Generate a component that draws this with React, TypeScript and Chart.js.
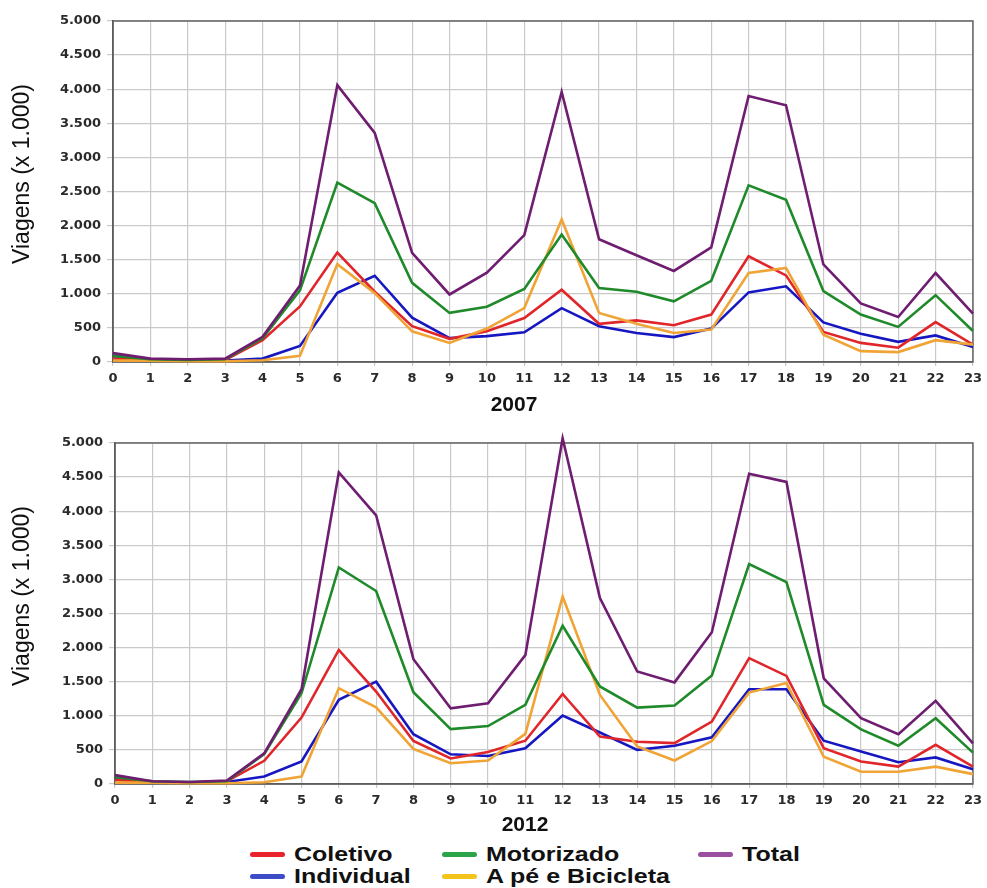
import React, { useEffect, useRef } from 'react';
import { Chart, registerables } from 'chart.js';

Chart.register(...registerables);

const HOURS = ['0', '1', '2', '3', '4', '5', '6', '7', '8', '9', '10', '11', '12', '13', '14', '15', '16', '17', '18', '19', '20', '21', '22', '23'];
const Y_TITLE = 'Viagens (x 1.000)';
const Y_MIN = 0;
const Y_MAX = 5000;
const Y_STEP = 500;
const YEARS_LABELS = ['2007', '2012'];

const SERIES = ['Coletivo', 'Individual', 'Motorizado', 'A pé e Bicicleta', 'Total'];
const LINE_COLORS = ['#e0262a', '#1717c2', '#1f8a2a', '#f0a436', '#6e1d70'];
const LEGEND_COLORS = ['#e8232c', '#3d4cc7', '#2ca548', '#f3c41b', '#9b4fa0'];

// 2007
const COLETIVO_2007 = [50, 30, 20, 30, 320, 815, 1605, 1030, 525, 340, 450, 645, 1060, 560, 610, 540, 695, 1550, 1270, 440, 280, 210, 585, 255];
const INDIVIDUAL_2007 = [90, 40, 30, 20, 50, 235, 1015, 1265, 650, 350, 380, 435, 790, 525, 425, 365, 490, 1020, 1110, 580, 415, 295, 390, 220];
const MOTORIZADO_2007 = [90, 40, 30, 40, 350, 1050, 2630, 2330, 1160, 720, 810, 1070, 1870, 1085, 1030, 890, 1190, 2590, 2380, 1040, 695, 515, 980, 455];
const APE_2007 = [20, 20, 10, 10, 25, 90, 1435, 1010, 450, 280, 490, 790, 2090, 720, 560, 425, 475, 1305, 1380, 400, 160, 145, 320, 255];
const TOTAL_2007 = [130, 50, 40, 50, 370, 1120, 4060, 3360, 1600, 990, 1310, 1860, 3960, 1800, 1565, 1335, 1680, 3900, 3765, 1430, 860, 660, 1305, 710];

// 2012
const COLETIVO_2012 = [60, 30, 20, 40, 340, 975, 1965, 1355, 630, 375, 470, 635, 1320, 695, 620, 600, 915, 1845, 1585, 525, 330, 255, 575, 255];
const INDIVIDUAL_2012 = [90, 30, 20, 30, 110, 330, 1235, 1500, 730, 435, 410, 525, 1005, 755, 500, 560, 685, 1390, 1390, 635, 475, 320, 390, 215];
const MOTORIZADO_2012 = [100, 40, 30, 40, 440, 1330, 3175, 2830, 1345, 805, 850, 1160, 2320, 1430, 1120, 1150, 1590, 3225, 2960, 1160, 800, 560, 965, 460];
const APE_2012 = [20, 20, 10, 10, 25, 110, 1405, 1125, 515, 305, 345, 735, 2750, 1305, 550, 345, 630, 1340, 1480, 400, 180, 180, 255, 145];
const TOTAL_2012 = [130, 40, 30, 50, 450, 1390, 4570, 3940, 1830, 1110, 1185, 1890, 5070, 2725, 1650, 1490, 2225, 4550, 4430, 1550, 965, 730, 1220, 595];

const DATA_2007 = [COLETIVO_2007, INDIVIDUAL_2007, MOTORIZADO_2007, APE_2007, TOTAL_2007];
const DATA_2012 = [COLETIVO_2012, INDIVIDUAL_2012, MOTORIZADO_2012, APE_2012, TOTAL_2012];

const TICK_FONT = { family: '"DejaVu Sans", Verdana, sans-serif', size: 13, weight: 'bold' as const };
const TEXT_FONT = '"Liberation Sans", Arial, sans-serif';

const fmt = (v: number) => String(v).replace(/\B(?=(\d{3})+(?!\d))/g, '.');

type Props = {
  year: string;
  data: number[][];
  top: number;
  padTop: number;
  padRight: number;
  axisLeft: number;
  axisBottom: number;
  titleX: number;
  titleY: number;
  yTitleY: number;
};

function LineChart({ year, data, top, padTop, padRight, axisLeft, axisBottom, titleX, titleY, yTitleY }: Props) {
  const ref = useRef<HTMLCanvasElement | null>(null);
  useEffect(() => {
    if (!ref.current) return;
    const frame = {
      id: 'frame',
      beforeDatasetsDraw(chart: any) {
        const { ctx, chartArea } = chart;
        ctx.save();
        ctx.strokeStyle = '#666';
        ctx.lineWidth = 1.5;
        ctx.strokeRect(chartArea.left, chartArea.top, chartArea.right - chartArea.left, chartArea.bottom - chartArea.top);
        ctx.restore();
      },
      afterDraw(chart: any) {
        const { ctx } = chart;
        ctx.save();
        ctx.fillStyle = '#111';
        ctx.font = `bold 21px ${TEXT_FONT}`;
        ctx.textAlign = 'center';
        ctx.textBaseline = 'middle';
        ctx.fillText(year, titleX, titleY);
        ctx.translate(23, yTitleY);
        ctx.rotate(-Math.PI / 2);
        ctx.font = `23px ${TEXT_FONT}`;
        ctx.fillText(Y_TITLE, 0, 0);
        ctx.restore();
      },
    };
    const order = [4, 2, 3, 0, 1];
    const chart = new Chart(ref.current, {
      type: 'line',
      data: {
        labels: HOURS,
        datasets: order.map((i) => ({
          label: SERIES[i],
          data: data[i],
          borderColor: LINE_COLORS[i],
          backgroundColor: LINE_COLORS[i],
          borderWidth: 2.6,
          pointRadius: 0,
          tension: 0,
          fill: false,
          clip: false as any,
        })),
      },
      options: {
        animation: false,
        responsive: false,
        maintainAspectRatio: false,
        layout: { padding: { top: padTop, right: padRight, left: 0, bottom: 0 } },
        plugins: {
          legend: { display: false },
          tooltip: { enabled: false },
          title: { display: false },
        },
        scales: {
          x: {
            grid: { color: '#c9c9c9', lineWidth: 1.2, tickLength: 4, drawTicks: true },
            border: { color: '#444', width: 1.5 },
            ticks: { font: TICK_FONT, color: '#2a2a2a', padding: 5, maxRotation: 0, autoSkip: false },
            afterFit: (s: any) => {
              s.height = axisBottom;
            },
          },
          y: {
            min: Y_MIN,
            max: Y_MAX,
            grid: { color: '#c9c9c9', lineWidth: 1.2, tickLength: 6 },
            border: { color: '#444', width: 1.5 },
            ticks: {
              stepSize: Y_STEP,
              font: TICK_FONT,
              color: '#2a2a2a',
              padding: 6,
              callback: (v: any) => fmt(Number(v)),
            },
            afterFit: (s: any) => {
              s.width = axisLeft;
            },
          },
        },
      },
      plugins: [frame],
    });
    return () => chart.destroy();
  }, []);
  return (
    <div style={{ position: 'absolute', left: 0, top, width: 987, height: 420 }}>
      <canvas ref={ref} width={987} height={420} style={{ width: 987, height: 420, display: 'block' }} />
    </div>
  );
}

const LEGEND_ROWS = [
  [0, 2, 4],
  [1, 3],
];
const LEGEND_COL_X = [250, 442, 698];
const LEGEND_ROW_Y = [854, 876];

export default function App() {
  return (
    <div style={{ position: 'absolute', left: 0, top: 0, width: 987, height: 888, background: '#fff', overflow: 'hidden' }}>
      <LineChart year={YEARS_LABELS[0]} data={DATA_2007} top={0} padTop={21} padRight={13} axisLeft={113} axisBottom={58} titleX={514} titleY={405} yTitleY={174} />
      <LineChart year={YEARS_LABELS[1]} data={DATA_2012} top={420} padTop={23} padRight={11} axisLeft={115} axisBottom={56} titleX={525} titleY={405} yTitleY={176} />
      {LEGEND_ROWS.map((row, r) =>
        row.map((si, c) => (
          <div
            key={`${r}-${c}`}
            style={{ position: 'absolute', left: LEGEND_COL_X[c], top: LEGEND_ROW_Y[r] - 12, height: 24, display: 'flex', alignItems: 'center', whiteSpace: 'nowrap' }}
          >
            <div style={{ width: 35, height: 5, borderRadius: 3, background: LEGEND_COLORS[si] }} />
            <span
              style={{
                marginLeft: 9,
                fontFamily: TEXT_FONT,
                fontWeight: 'bold',
                fontSize: 20,
                color: '#111',
                display: 'inline-block',
                transform: 'scaleX(1.25)',
                transformOrigin: 'left center',
              }}
            >
              {SERIES[si]}
            </span>
          </div>
        ))
      )}
    </div>
  );
}
